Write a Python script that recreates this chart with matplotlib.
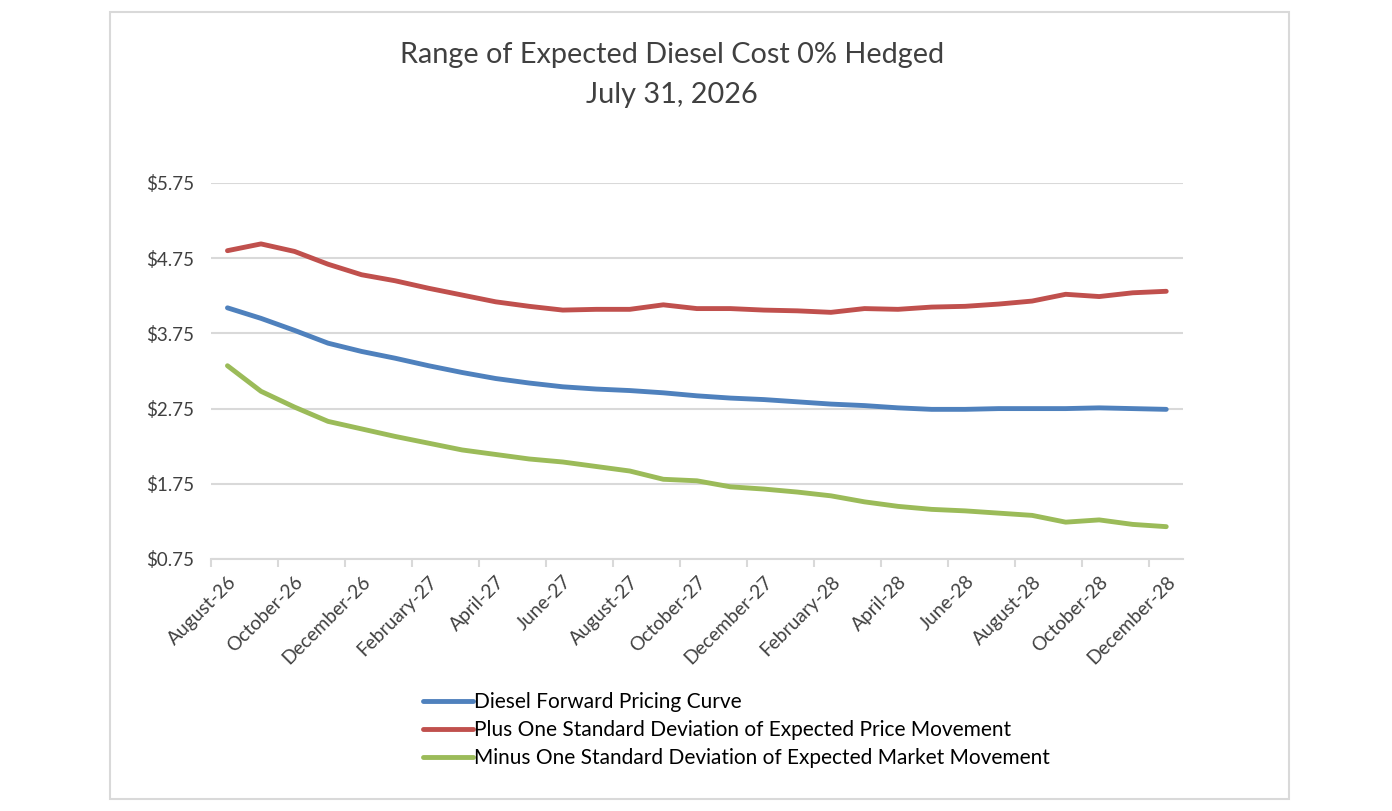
import matplotlib
matplotlib.use("Agg")
import matplotlib.pyplot as plt
from matplotlib.patches import Rectangle
import numpy as np

plt.rcParams['font.family'] = ['Lato', 'DejaVu Sans']

# monthly categories, Aug-26 .. Dec-28
labels = ['August-26', 'September-26', 'October-26', 'November-26', 'December-26',
          'January-27', 'February-27', 'March-27', 'April-27', 'May-27', 'June-27',
          'July-27', 'August-27', 'September-27', 'October-27', 'November-27',
          'December-27', 'January-28', 'February-28', 'March-28', 'April-28',
          'May-28', 'June-28', 'July-28', 'August-28', 'September-28',
          'October-28', 'November-28', 'December-28']

forward = [4.09, 3.95, 3.79, 3.62, 3.51, 3.42, 3.32, 3.23, 3.15, 3.09,
           3.04, 3.01, 2.99, 2.96, 2.92, 2.89, 2.87, 2.84, 2.81, 2.79,
           2.76, 2.74, 2.74, 2.75, 2.75, 2.75, 2.76, 2.75, 2.74]
plus_sd = [4.85, 4.94, 4.84, 4.67, 4.53, 4.45, 4.35, 4.26, 4.17, 4.11,
           4.06, 4.07, 4.07, 4.13, 4.08, 4.08, 4.06, 4.05, 4.03, 4.08,
           4.07, 4.10, 4.11, 4.14, 4.18, 4.27, 4.24, 4.29, 4.31]
minus_sd = [3.32, 2.98, 2.77, 2.58, 2.48, 2.38, 2.29, 2.20, 2.14, 2.08,
            2.04, 1.98, 1.92, 1.81, 1.79, 1.71, 1.68, 1.64, 1.59, 1.51,
            1.45, 1.41, 1.39, 1.36, 1.33, 1.24, 1.27, 1.21, 1.18]
yticks = [0.75, 1.75, 2.75, 3.75, 4.75, 5.75]

W, H = 1392, 811
fig = plt.figure(figsize=(W / 100, H / 100), dpi=100)

# chart border
fig.patches.append(Rectangle((110 / W, 1 - 799 / H), (1289 - 110) / W, (799 - 12) / H,
                             transform=fig.transFigure, fill=False,
                             edgecolor='#d9d9d9', linewidth=1.5))

ax = fig.add_axes([210.7 / W, 1 - 559 / H, (1183 - 210.7) / W, (559 - 183) / H])
x = np.arange(len(labels))
ax.plot(x, forward, color='#4f81bd', linewidth=3.5, solid_capstyle='round',
        label='Diesel Forward Pricing Curve')
ax.plot(x, plus_sd, color='#c0504d', linewidth=3.5, solid_capstyle='round',
        label='Plus One Standard Deviation of Expected Price Movement')
ax.plot(x, minus_sd, color='#9bbb59', linewidth=3.5, solid_capstyle='round',
        label='Minus One Standard Deviation of Expected Market Movement')

ax.set_xlim(-0.5, len(labels) - 0.5)
ax.set_ylim(0.75, 5.75)
ax.set_yticks(yticks)
ax.set_yticklabels(['$%.2f' % v for v in yticks], fontsize=13.5, color='#404040')
ax.yaxis.grid(True, color='#d9d9d9', linewidth=1.5)
ax.set_axisbelow(True)
ax.tick_params(axis='y', length=0, pad=12)

ax.set_xticks(x[::2])
ax.set_xticklabels(labels[::2], rotation=45, ha='right', rotation_mode='anchor',
                   fontsize=13.8, color='#404040')
ax.set_xticks(np.arange(-0.5, len(labels) - 1, 2), minor=True)
ax.tick_params(axis='x', which='major', length=0, pad=10)
ax.tick_params(axis='x', which='minor', length=6, width=1.5, color='#d9d9d9')

for s in ['left', 'right', 'top']:
    ax.spines[s].set_visible(False)
ax.spines['bottom'].set_color('#d9d9d9')
ax.spines['bottom'].set_linewidth(1.5)

fig.text(672 / W, 1 - 55 / H, 'Range of Expected Diesel Cost 0% Hedged',
         ha='center', va='center', fontsize=20.8, color='#404040')
fig.text(672 / W, 1 - 95 / H, 'July 31, 2026',
         ha='center', va='center', fontsize=20.8, color='#404040')

fig.legend(loc='upper left', bbox_to_anchor=(423 / W, 1 - 692 / H), frameon=False,
           fontsize=15, handlelength=2.4, handletextpad=0.05, labelspacing=0.38,
           borderpad=0, borderaxespad=0, labelcolor='#000000')

fig.savefig('out.png', dpi=100)
